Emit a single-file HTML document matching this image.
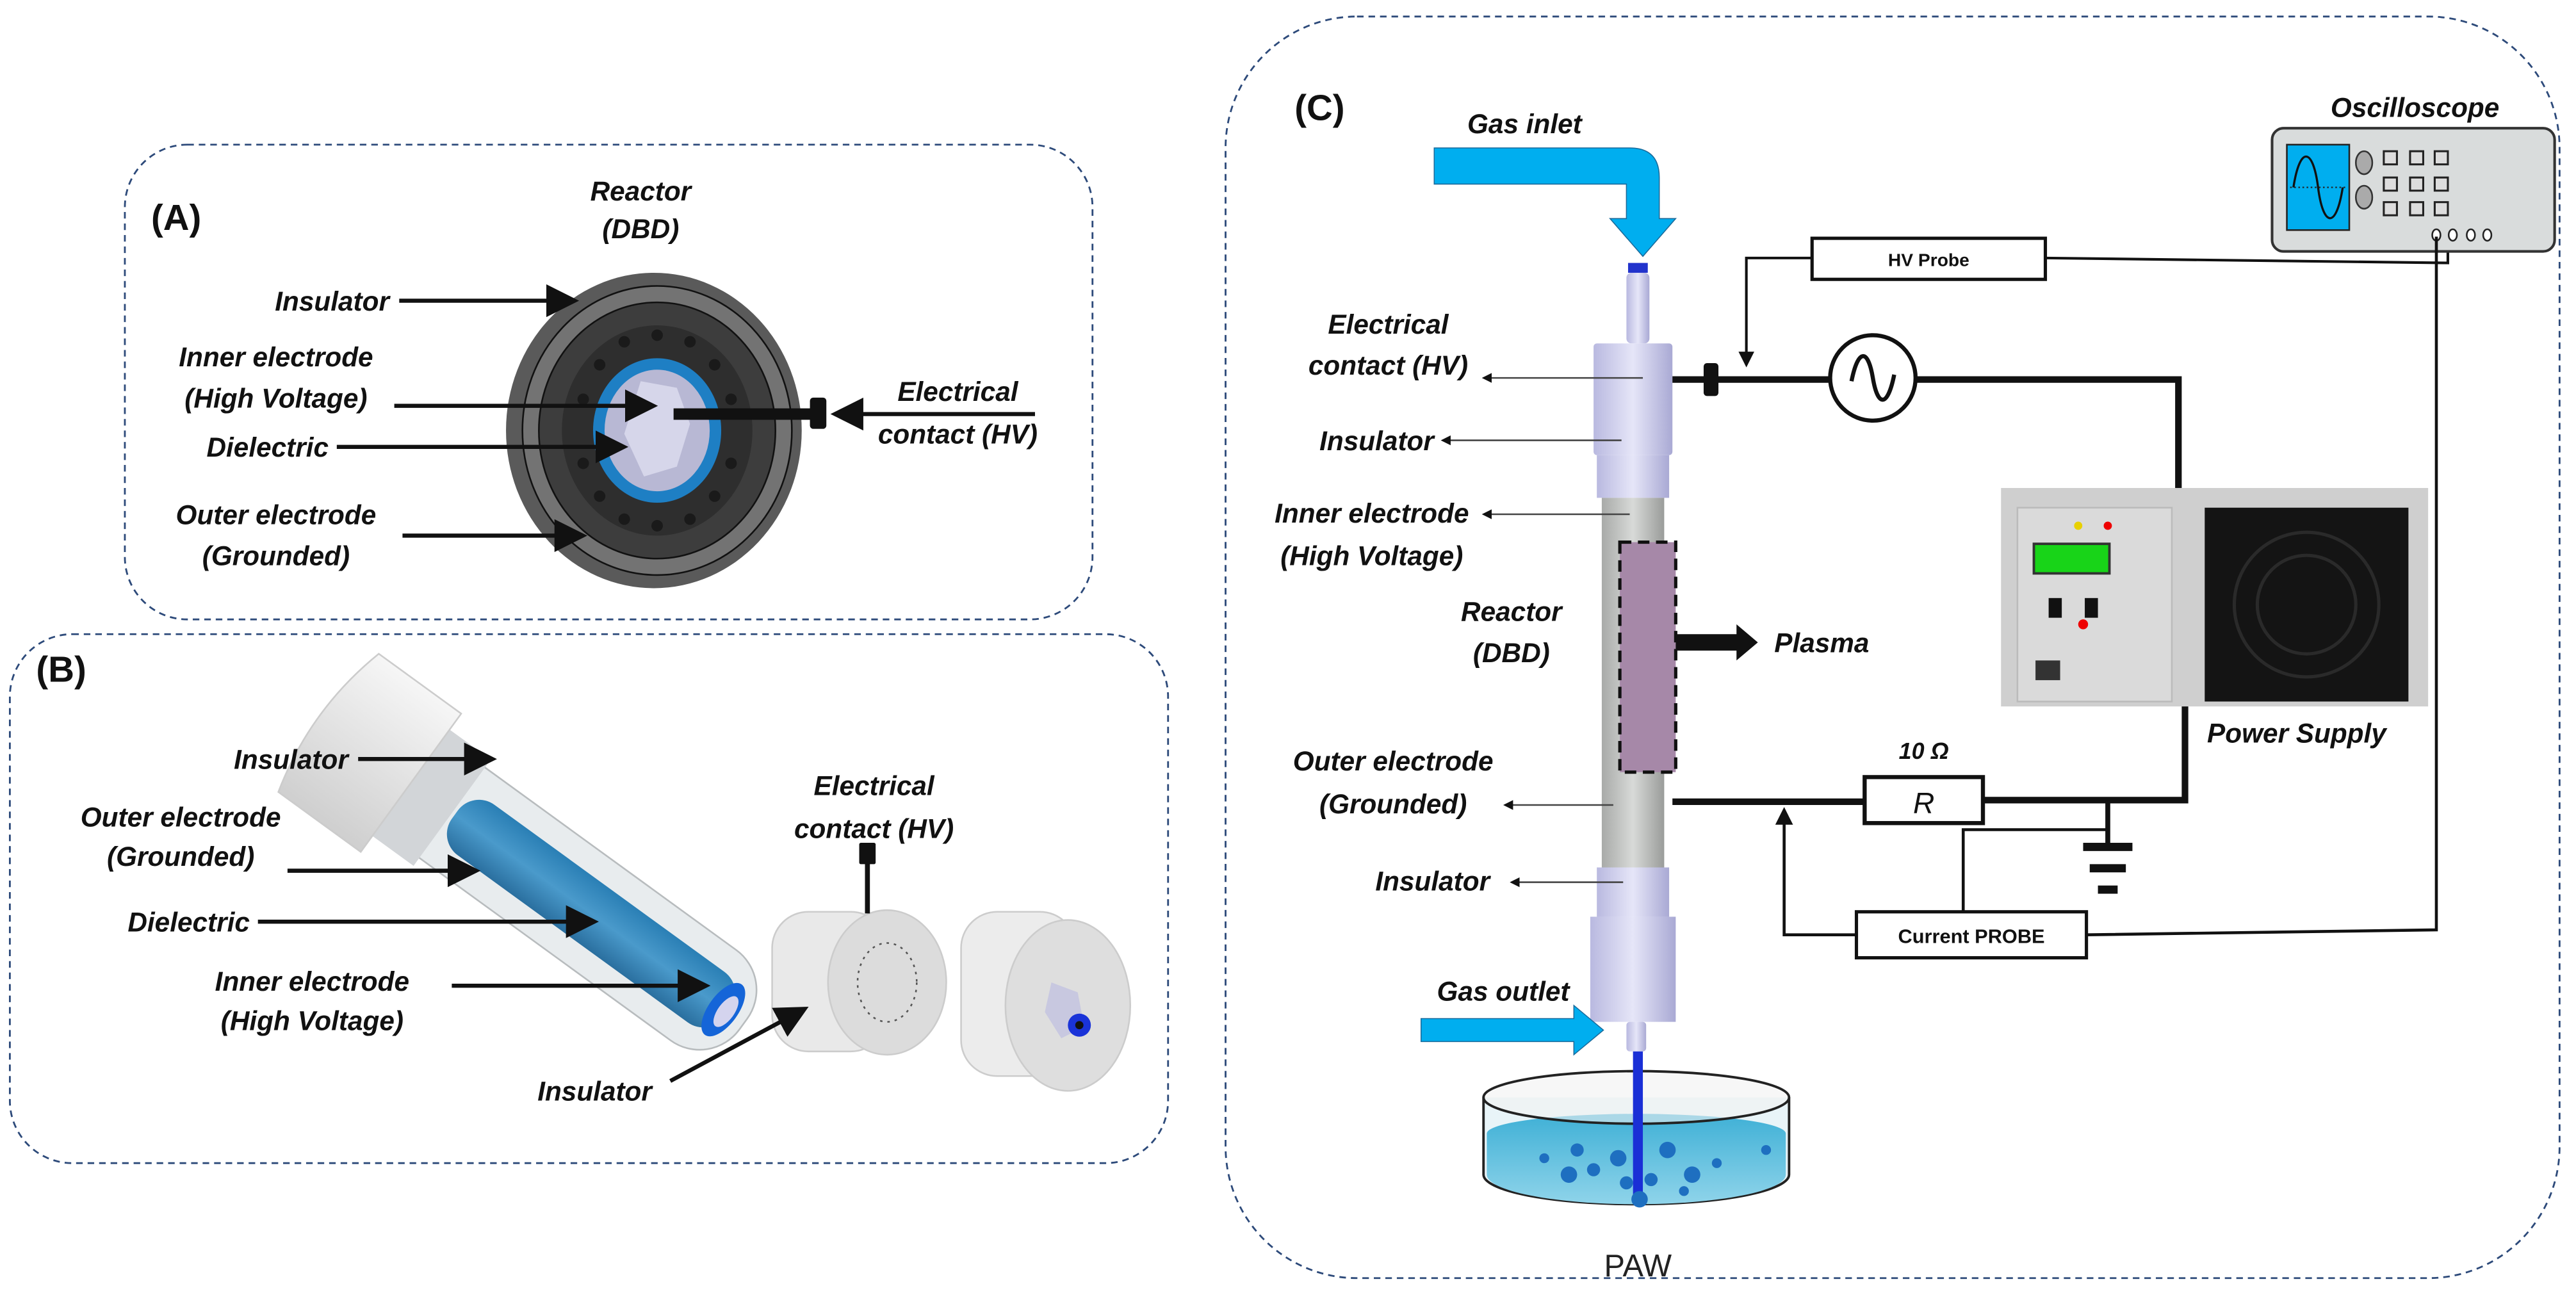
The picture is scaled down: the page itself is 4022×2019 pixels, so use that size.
<!DOCTYPE html>
<html><head><meta charset="utf-8"><style>
html,body{margin:0;padding:0;background:#fff;}
svg{display:block;}
text{font-family:"Liberation Sans Narrow","Liberation Sans",sans-serif;}
.l{font-size:16.5px;font-weight:bold;font-style:italic;fill:#111;}
.h{font-size:22px;font-weight:bold;fill:#111;}
</style></head><body>
<svg width="4022" height="2019" viewBox="0 0 1568 787" xmlns="http://www.w3.org/2000/svg">
<defs>
<marker id="a" markerWidth="6" markerHeight="6" refX="5" refY="3" orient="auto" markerUnits="strokeWidth"><path d="M0,0 L6,3 L0,6 Z" fill="#111"/></marker>
<marker id="b" markerWidth="8" markerHeight="8" refX="7" refY="4" orient="auto" markerUnits="strokeWidth"><path d="M0,0 L8,4 L0,8 Z" fill="#111"/></marker>
<linearGradient id="lav" x1="0" x2="1"><stop offset="0" stop-color="#b9b9e0"/><stop offset="0.5" stop-color="#e6e6f8"/><stop offset="1" stop-color="#a9a9d4"/></linearGradient>
<linearGradient id="gry" x1="0" x2="1"><stop offset="0" stop-color="#a8aaa8"/><stop offset="0.5" stop-color="#d8dad8"/><stop offset="1" stop-color="#9a9c9a"/></linearGradient>
<linearGradient id="wht" x1="0" x2="0" y1="0" y2="1"><stop offset="0" stop-color="#f6f6f6"/><stop offset="1" stop-color="#cfcfcf"/></linearGradient>
<linearGradient id="wat" x1="0" x2="0" y1="0" y2="1"><stop offset="0" stop-color="#3fb0d6"/><stop offset="1" stop-color="#8fd4ea"/></linearGradient>
<linearGradient id="blu" x1="0" x2="0" y1="0" y2="1"><stop offset="0" stop-color="#2a7fb5"/><stop offset="0.5" stop-color="#4a9acb"/><stop offset="1" stop-color="#2a6f9f"/></linearGradient>
</defs>
<g fill="none" stroke="#2d4a7a" stroke-width="1.1" stroke-dasharray="4,3">
<rect x="76" y="88" width="589" height="289" rx="38"/>
<rect x="6" y="386" width="705" height="322" rx="38"/>
<rect x="746" y="10" width="812" height="768" rx="80"/>
</g>

<!-- Panel A -->
<text class="h" x="92" y="140">(A)</text>
<text class="l" x="390" y="122" text-anchor="middle">Reactor</text>
<text class="l" x="390" y="145" text-anchor="middle">(DBD)</text>
<ellipse cx="398" cy="262" rx="90" ry="96" fill="#5a5a5a"/>
<ellipse cx="400" cy="262" rx="82" ry="88" fill="#737373" stroke="#111" stroke-width="1"/>
<ellipse cx="400" cy="262" rx="72" ry="78" fill="#3d3d3d" stroke="#111" stroke-width="1"/>
<ellipse cx="400" cy="262" rx="58" ry="64" fill="#2e2e2e"/>
<g fill="#1a1a1a"><circle cx="400" cy="204" r="3.5"/><circle cx="380" cy="208" r="3.5"/><circle cx="420" cy="208" r="3.5"/><circle cx="365" cy="222" r="3.5"/><circle cx="435" cy="222" r="3.5"/><circle cx="355" cy="243" r="3.5"/><circle cx="445" cy="243" r="3.5"/><circle cx="355" cy="282" r="3.5"/><circle cx="445" cy="282" r="3.5"/><circle cx="365" cy="302" r="3.5"/><circle cx="435" cy="302" r="3.5"/><circle cx="380" cy="316" r="3.5"/><circle cx="420" cy="316" r="3.5"/><circle cx="400" cy="320" r="3.5"/></g>
<ellipse cx="400" cy="262" rx="39" ry="44" fill="#1e7fc4"/>
<ellipse cx="400" cy="262" rx="32" ry="37" fill="#b8b8d4"/>
<polygon points="390,232 412,236 420,258 412,284 392,290 380,264" fill="#d6d6ea"/>
<line x1="410" y1="252" x2="494" y2="252" stroke="#111" stroke-width="7"/>
<rect x="493" y="242" width="10" height="19" rx="2" fill="#111"/>
<text class="l" x="237" y="189" text-anchor="end">Insulator</text>
<line x1="243" y1="183" x2="350" y2="183" stroke="#111" stroke-width="2.5" marker-end="url(#b)"/>
<text class="l" x="168" y="223" text-anchor="middle">Inner electrode</text>
<text class="l" x="168" y="248" text-anchor="middle">(High Voltage)</text>
<line x1="240" y1="247" x2="398" y2="247" stroke="#111" stroke-width="2.5" marker-end="url(#b)"/>
<text class="l" x="200" y="278" text-anchor="end">Dielectric</text>
<line x1="205" y1="272" x2="380" y2="272" stroke="#111" stroke-width="2.5" marker-end="url(#b)"/>
<text class="l" x="168" y="319" text-anchor="middle">Outer electrode</text>
<text class="l" x="168" y="344" text-anchor="middle">(Grounded)</text>
<line x1="245" y1="326" x2="355" y2="326" stroke="#111" stroke-width="2.5" marker-end="url(#b)"/>
<text class="l" x="583" y="244" text-anchor="middle">Electrical</text>
<text class="l" x="583" y="270" text-anchor="middle">contact (HV)</text>
<line x1="630" y1="252" x2="508" y2="252" stroke="#111" stroke-width="2.5" marker-end="url(#b)"/>

<!-- Panel B -->
<text class="h" x="22" y="415">(B)</text>
<g transform="translate(200,440) rotate(36)">
<rect x="62" y="-34" width="250" height="68" rx="30" fill="#e8ecee" stroke="#b8bcbe"/>
<rect x="55" y="-40" width="38" height="80" fill="#d2d5d8"/>
<rect x="95" y="-19" width="205" height="38" rx="16" fill="url(#blu)"/>
<ellipse cx="297" cy="0" rx="9" ry="19" fill="#1565d8"/>
<ellipse cx="299" cy="0" rx="5" ry="11" fill="#d4d4ee"/>
<path d="M0,-52 L62,-52 L62,52 L0,52 Q-14,0 0,-52 Z" fill="url(#wht)" stroke="#ccc"/>
</g>
<rect x="470" y="555" width="70" height="85" rx="22" fill="#e9e9e9" stroke="#ccc"/>
<ellipse cx="540" cy="598" rx="36" ry="44" fill="#dcdcdc" stroke="#ccc"/>
<ellipse cx="540" cy="598" rx="18" ry="24" fill="none" stroke="#555" stroke-dasharray="1.5,3"/>
<line x1="528" y1="525" x2="528" y2="556" stroke="#111" stroke-width="3"/>
<rect x="523" y="513" width="10" height="13" rx="1" fill="#111"/>
<rect x="585" y="555" width="70" height="100" rx="22" fill="#ececec" stroke="#ccc"/>
<ellipse cx="650" cy="612" rx="38" ry="52" fill="#dedede" stroke="#ccc"/>
<polygon points="640,598 656,604 660,625 646,632 636,616" fill="#c8c8e0"/>
<circle cx="657" cy="624" r="7" fill="#1a33d8"/><circle cx="657" cy="624" r="2.5" fill="#111"/>
<text class="l" x="212" y="468" text-anchor="end">Insulator</text>
<line x1="218" y1="462" x2="300" y2="462" stroke="#111" stroke-width="2.5" marker-end="url(#b)"/>
<text class="l" x="110" y="503" text-anchor="middle">Outer electrode</text>
<text class="l" x="110" y="527" text-anchor="middle">(Grounded)</text>
<line x1="175" y1="530" x2="290" y2="530" stroke="#111" stroke-width="2.5" marker-end="url(#b)"/>
<text class="l" x="152" y="567" text-anchor="end">Dielectric</text>
<line x1="157" y1="561" x2="362" y2="561" stroke="#111" stroke-width="2.5" marker-end="url(#b)"/>
<text class="l" x="190" y="603" text-anchor="middle">Inner electrode</text>
<text class="l" x="190" y="627" text-anchor="middle">(High Voltage)</text>
<line x1="275" y1="600" x2="430" y2="600" stroke="#111" stroke-width="2.5" marker-end="url(#b)"/>
<text class="l" x="532" y="484" text-anchor="middle">Electrical</text>
<text class="l" x="532" y="510" text-anchor="middle">contact (HV)</text>
<text class="l" x="362" y="670" text-anchor="middle">Insulator</text>
<line x1="408" y1="658" x2="490" y2="614" stroke="#111" stroke-width="2.5" marker-end="url(#b)"/>

<!-- Panel C -->
<text class="h" x="788" y="73">(C)</text>
<text class="l" x="928" y="81" text-anchor="middle">Gas inlet</text>
<path d="M873,90 L992,90 Q1010,90 1010,108 L1010,133 L1020,133 L1000,156 L980,133 L990,133 L990,112 L873,112 Z" fill="#00aeef" stroke="#1a6a9a" stroke-width="0.6"/>
<rect x="991" y="160" width="12" height="6" fill="#2233cc"/>
<rect x="990" y="166" width="14" height="43" rx="3" fill="url(#lav)"/>
<rect x="970" y="209" width="48" height="68" rx="2" fill="url(#lav)"/>
<rect x="972" y="277" width="44" height="26" fill="url(#lav)"/>
<rect x="975" y="303" width="38" height="225" fill="url(#gry)"/>
<rect x="986" y="330" width="34" height="140" fill="#a688a8" stroke="#111" stroke-width="2" stroke-dasharray="7,4"/>
<rect x="972" y="528" width="44" height="30" fill="url(#lav)"/>
<rect x="968" y="558" width="52" height="64" fill="url(#lav)"/>
<rect x="990" y="622" width="12" height="18" rx="2" fill="url(#lav)"/>
<!-- dish -->
<path d="M903,668 L903,715 A93,18 0 0 0 1089,715 L1089,668" fill="#e8f4f8" stroke="#222" stroke-width="1.5"/>
<path d="M905,690 A91,12 0 0 1 1087,690 L1087,715 A91,18 0 0 1 905,715 Z" fill="url(#wat)"/>
<ellipse cx="996" cy="668" rx="93" ry="16" fill="#f2f2f2" fill-opacity="0.6" stroke="#222" stroke-width="1.5"/>
<rect x="994" y="640" width="6" height="92" fill="#1a2fd6"/>
<g fill="#1e6fc0"><circle cx="960" cy="700" r="4"/><circle cx="955" cy="715" r="5"/><circle cx="970" cy="712" r="4"/><circle cx="985" cy="705" r="5"/><circle cx="990" cy="720" r="4"/><circle cx="1005" cy="718" r="4"/><circle cx="1015" cy="700" r="5"/><circle cx="1030" cy="715" r="5"/><circle cx="1045" cy="708" r="3"/><circle cx="1025" cy="725" r="3"/><circle cx="1075" cy="700" r="3"/><circle cx="998" cy="730" r="5"/><circle cx="940" cy="705" r="3"/></g>
<text x="997" y="777" text-anchor="middle" style="font-size:19px;fill:#222">PAW</text>
<text class="l" x="915" y="609" text-anchor="middle">Gas outlet</text>
<path d="M865,620 L958,620 L958,612 L976,627 L958,642 L958,634 L865,634 Z" fill="#00aeef" stroke="#1a6a9a" stroke-width="0.6"/>
<!-- C labels -->
<text class="l" x="845" y="203" text-anchor="middle">Electrical</text>
<text class="l" x="845" y="228" text-anchor="middle">contact (HV)</text>
<line x1="1000" y1="230" x2="903" y2="230" stroke="#444" stroke-width="1" marker-end="url(#a)"/>
<text class="l" x="838" y="274" text-anchor="middle">Insulator</text>
<line x1="987" y1="268" x2="878" y2="268" stroke="#444" stroke-width="1" marker-end="url(#a)"/>
<text class="l" x="835" y="318" text-anchor="middle">Inner electrode</text>
<text class="l" x="835" y="344" text-anchor="middle">(High Voltage)</text>
<line x1="992" y1="313" x2="903" y2="313" stroke="#444" stroke-width="1" marker-end="url(#a)"/>
<text class="l" x="920" y="378" text-anchor="middle">Reactor</text>
<text class="l" x="920" y="403" text-anchor="middle">(DBD)</text>
<path d="M1020,386 L1057,386 L1057,380 L1070,391 L1057,402 L1057,396 L1020,396 Z" fill="#111"/>
<text class="l" x="1080" y="397">Plasma</text>
<text class="l" x="848" y="469" text-anchor="middle">Outer electrode</text>
<text class="l" x="848" y="495" text-anchor="middle">(Grounded)</text>
<line x1="982" y1="490" x2="916" y2="490" stroke="#444" stroke-width="1" marker-end="url(#a)"/>
<text class="l" x="872" y="542" text-anchor="middle">Insulator</text>
<line x1="988" y1="537" x2="920" y2="537" stroke="#444" stroke-width="1" marker-end="url(#a)"/>
<!-- circuit top -->
<rect x="1103" y="145" width="142" height="25" fill="#fff" stroke="#111" stroke-width="2"/>
<text x="1174" y="162" text-anchor="middle" style="font-size:11px;font-weight:bold;fill:#111">HV Probe</text>
<polyline points="1103,157 1063,157 1063,222" fill="none" stroke="#111" stroke-width="1.6" marker-end="url(#a)"/>
<polyline points="1245,157 1490,160 1490,138" fill="none" stroke="#111" stroke-width="1.6"/>
<line x1="1018" y1="231" x2="1113" y2="231" stroke="#111" stroke-width="4"/>
<rect x="1037" y="221" width="9" height="20" rx="2" fill="#111"/>
<circle cx="1140" cy="230" r="26" fill="#fff" stroke="#111" stroke-width="2.5"/>
<path d="M1127,232 C1131,212 1137,212 1140,230 C1143,248 1149,248 1153,228" fill="none" stroke="#111" stroke-width="2.5"/>
<polyline points="1166,231 1326,231 1326,298" fill="none" stroke="#111" stroke-width="4"/>
<!-- oscilloscope -->
<text class="l" x="1470" y="71" text-anchor="middle">Oscilloscope</text>
<rect x="1383" y="78" width="172" height="75" rx="7" fill="#d9dcdc" stroke="#333" stroke-width="1.6"/>
<rect x="1392" y="88" width="38" height="52" fill="#00aeef" stroke="#222"/>
<line x1="1394" y1="114" x2="1428" y2="114" stroke="#222" stroke-dasharray="1,1.5" stroke-width="0.8"/>
<path d="M1396,114 C1400,88 1408,90 1411,114 C1414,138 1422,140 1426,114" fill="none" stroke="#111" stroke-width="1.3"/>
<ellipse cx="1439" cy="99" rx="5" ry="7" fill="#aaa" stroke="#333"/>
<ellipse cx="1439" cy="120" rx="5" ry="7" fill="#aaa" stroke="#333"/>
<g fill="#ddd" stroke="#222" stroke-width="1.2"><rect x="1451" y="92" width="8" height="8"/><rect x="1467" y="92" width="8" height="8"/><rect x="1482" y="92" width="8" height="8"/><rect x="1451" y="108" width="8" height="8"/><rect x="1467" y="108" width="8" height="8"/><rect x="1482" y="108" width="8" height="8"/><rect x="1451" y="123" width="8" height="8"/><rect x="1467" y="123" width="8" height="8"/><rect x="1482" y="123" width="8" height="8"/></g>
<g fill="#fff" stroke="#222" stroke-width="1"><ellipse cx="1483" cy="143" rx="2.5" ry="3.5"/><ellipse cx="1493" cy="143" rx="2.5" ry="3.5"/><ellipse cx="1504" cy="143" rx="2.5" ry="3.5"/><ellipse cx="1514" cy="143" rx="2.5" ry="3.5"/></g>
<!-- power supply -->
<rect x="1218" y="297" width="260" height="133" fill="#cfcfcf"/>
<rect x="1228" y="309" width="94" height="118" fill="#dadada" stroke="#bbb"/>
<rect x="1342" y="309" width="124" height="118" fill="#141414"/>
<circle cx="1404" cy="368" r="44" fill="none" stroke="#2a2a2a" stroke-width="2"/>
<circle cx="1404" cy="368" r="30" fill="none" stroke="#2a2a2a" stroke-width="2"/>
<circle cx="1265" cy="320" r="2.5" fill="#e8d000"/><circle cx="1283" cy="320" r="2.5" fill="#e00"/>
<rect x="1238" y="331" width="46" height="18" fill="#18d418" stroke="#333" stroke-width="1.5"/>
<rect x="1247" y="364" width="8" height="12" fill="#111"/><rect x="1269" y="364" width="8" height="12" fill="#111"/>
<circle cx="1268" cy="380" r="3" fill="#e00"/>
<rect x="1239" y="402" width="15" height="12" fill="#333"/>
<text class="l" x="1398" y="452" text-anchor="middle">Power Supply</text>
<!-- ground circuit -->
<polyline points="1018,488 1135,488" fill="none" stroke="#111" stroke-width="4"/>
<rect x="1135" y="473" width="72" height="28" fill="#fff" stroke="#111" stroke-width="2.5"/>
<text x="1171" y="495" text-anchor="middle" style="font-size:18px;font-style:italic;fill:#111">R</text>
<text class="l" x="1171" y="462" text-anchor="middle" style="font-size:14px">10 Ω</text>
<polyline points="1207,487 1330,487 1330,430" fill="none" stroke="#111" stroke-width="4"/>
<line x1="1283" y1="487" x2="1283" y2="515" stroke="#111" stroke-width="3"/>
<rect x="1268" y="513" width="30" height="5" fill="#111"/><rect x="1272" y="526" width="22" height="5" fill="#111"/><rect x="1277" y="539" width="12" height="5" fill="#111"/>
<polyline points="1283,505 1195,505 1195,555" fill="none" stroke="#111" stroke-width="1.8"/>
<rect x="1130" y="555" width="140" height="28" fill="#fff" stroke="#111" stroke-width="2"/>
<text x="1200" y="574" text-anchor="middle" style="font-size:12px;font-weight:bold;fill:#111">Current PROBE</text>
<polyline points="1130,569 1086,569 1086,493" fill="none" stroke="#111" stroke-width="1.8" marker-end="url(#a)"/>
<polyline points="1270,569 1483,566 1483,144" fill="none" stroke="#111" stroke-width="1.8"/>
</svg>
</body></html>
